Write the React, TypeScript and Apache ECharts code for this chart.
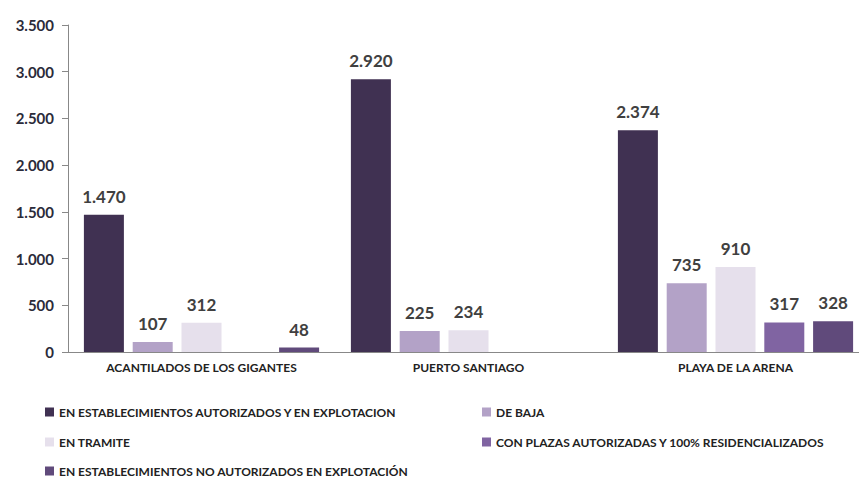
import React, { useEffect, useRef } from "react";
import * as echarts from "echarts";

const categories = ["ACANTILADOS DE LOS GIGANTES", "PUERTO SANTIAGO", "PLAYA DE LA ARENA"];
const seriesNames = [
  "EN ESTABLECIMIENTOS AUTORIZADOS Y EN EXPLOTACION",
  "DE BAJA",
  "EN TRAMITE",
  "CON PLAZAS AUTORIZADAS Y 100% RESIDENCIALIZADOS",
  "EN ESTABLECIMIENTOS NO AUTORIZADOS EN EXPLOTACIÓN",
];
const autorizados = [1470, 2920, 2374];
const deBaja = [107, 225, 735];
const enTramite = [312, 234, 910];
const conPlazas = [null, null, 317];
const noAutorizados = [48, null, 328];
const seriesValues = [autorizados, deBaja, enTramite, conPlazas, noAutorizados];
const colors = ["#403152", "#b3a2c7", "#e6e0ec", "#8064a2", "#604a7b"];

const FONT = "Lato, 'Open Sans', sans-serif";
const fmt = (v: number) => v.toLocaleString("de-DE");

export default function App() {
  const ref = useRef<HTMLDivElement>(null);
  useEffect(() => {
    if (!ref.current) return;
    const chart = echarts.init(ref.current, null, { renderer: "svg" });
    const legendPos = [
      { left: 40, top: 404 },
      { left: 477, top: 404 },
      { left: 40, top: 434 },
      { left: 477, top: 434 },
      { left: 40, top: 463 },
    ];
    chart.setOption({
      animation: false,
      textStyle: { fontFamily: FONT },
      grid: { left: 68, right: 11, top: 25, bottom: 127 },
      legend: seriesNames.map((n, i) => ({
        data: [n],
        left: legendPos[i].left,
        top: legendPos[i].top,
        padding: [2, 5, 2, 5],
        itemWidth: 9,
        itemHeight: 9,
        icon: "rect",
        textStyle: { fontFamily: FONT, fontSize: 12, fontWeight: "bold", color: "#222" },
      })),
      xAxis: {
        type: "category",
        data: categories,
        axisLine: { lineStyle: { color: "#888", width: 1 } },
        axisTick: { show: false },
        axisLabel: { fontFamily: FONT, fontSize: 12, fontWeight: "bold", color: "#222", margin: 9 },
      },
      yAxis: {
        type: "value",
        min: 0,
        max: 3500,
        interval: 500,
        splitLine: { show: false },
        axisLine: { show: true, lineStyle: { color: "#888", width: 1 } },
        axisTick: { show: true, length: 6, lineStyle: { color: "#888" } },
        axisLabel: {
          fontFamily: FONT,
          fontSize: 15,
          fontWeight: "bold",
          color: "#2b2b3a",
          margin: 14,
          formatter: (v: number) => fmt(v),
        },
      },
      series: seriesNames.map((n, i) => ({
        name: n,
        type: "bar",
        data: seriesValues[i],
        barWidth: 40,
        barGap: "22%",
        itemStyle: { color: colors[i] },
        label: {
          show: true,
          position: "top",
          distance: 10,
          fontFamily: FONT,
          fontSize: 17,
          fontWeight: "bold",
          color: "#404040",
          formatter: (p: any) => fmt(p.value),
        },
      })),
    });
    return () => chart.dispose();
  }, []);
  return (
    <div style={{ width: 859, height: 479, position: "absolute", left: 0, top: 0, overflow: "hidden" }}>
      <div ref={ref} style={{ width: 880, height: 479 }} />
    </div>
  );
}
